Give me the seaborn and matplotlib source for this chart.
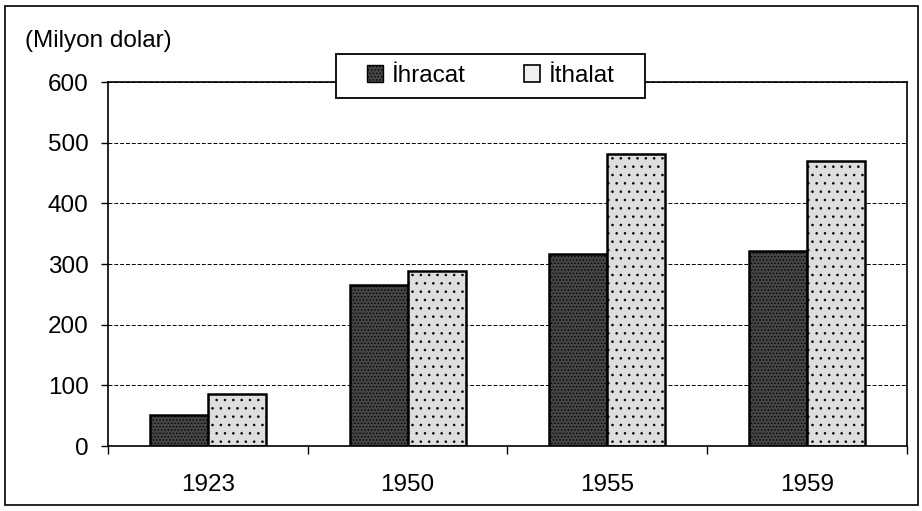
import matplotlib
matplotlib.use("Agg")
import matplotlib.pyplot as plt
import seaborn as sns
import pandas as pd
from matplotlib.patches import Rectangle, Patch

years = ["1923", "1950", "1955", "1959"]
ihracat = [51, 266, 317, 322]
ithalat = [86, 289, 481, 470]
series = ["İhracat", "İthalat"]
yticks = [0, 100, 200, 300, 400, 500, 600]

df = pd.DataFrame({
    "year": years * 2,
    "value": ihracat + ithalat,
    "series": [series[0]] * 4 + [series[1]] * 4,
})

sns.set_theme(style="white")
plt.rcParams["font.family"] = ["Liberation Sans", "DejaVu Sans"]
plt.rcParams["hatch.linewidth"] = 0.6

fig = plt.figure(figsize=(9.22, 5.11), dpi=100)
ax = fig.add_axes([0.1171, 0.1272, 0.8666, 0.7123])

dark = "#454545"
light = "#dedede"
palette = {series[0]: dark, series[1]: light}
sns.barplot(data=df, x="year", y="value", hue="series", palette=palette,
            width=0.58, edgecolor="black", linewidth=1.8, saturation=1,
            ax=ax, legend=False)

for i, p in enumerate(ax.patches):
    p.set_edgecolor("black")
    p.set_hatch("....." if i < 4 else "..")

ax.set_ylim(0, 600)
ax.set_yticks(yticks)
ax.set_xlim(-0.5, 3.5)
ax.yaxis.grid(True, linestyle=(0, (4, 2)), color="black", linewidth=0.7)
ax.set_axisbelow(True)
ax.set_xlabel("")
ax.set_ylabel("")
ax.tick_params(axis="y", labelsize=17.5, colors="black", length=5, width=1,
               direction="out", left=True, pad=9)
ax.set_xticks([0, 1, 2, 3])
ax.set_xticks([-0.5, 0.5, 1.5, 2.5, 3.5], minor=True)
ax.tick_params(axis="x", which="major", length=0, pad=20, labelsize=17.5,
               colors="black")
ax.tick_params(axis="x", which="minor", length=6, width=1, direction="out",
               bottom=True, color="black")
for s in ax.spines.values():
    s.set_color("black")
    s.set_linewidth(1.2)

fig.text(25 / 922, 1 - 41 / 511, "(Milyon dolar)", fontsize=17.5, color="black",
         ha="left", va="center")

handles = [Patch(facecolor=dark, edgecolor="black", hatch="....."),
           Patch(facecolor="#f0f0f0", edgecolor="black", linewidth=1.2)]
fig.patches.append(Rectangle((336 / 922, 1 - 98 / 511), 309 / 922, 44 / 511,
                             transform=fig.transFigure, facecolor="white",
                             edgecolor="black", linewidth=1.3, zorder=5))
leg = fig.legend(handles, series, loc="center",
                 bbox_to_anchor=(491 / 922, 1 - 76 / 511),
                 ncol=2, frameon=False, fontsize=17.5, handlelength=0.66,
                 handleheight=0.66, columnspacing=2.4, handletextpad=0.35,
                 borderpad=0.2)
leg.set_zorder(6)
for t in leg.get_texts():
    t.set_color("black")

fig.patches.append(Rectangle((5 / 922, 6 / 511), 913 / 922, 499 / 511,
                             transform=fig.transFigure, fill=False,
                             edgecolor="black", linewidth=1.2))

fig.savefig("out.png", dpi=100)
